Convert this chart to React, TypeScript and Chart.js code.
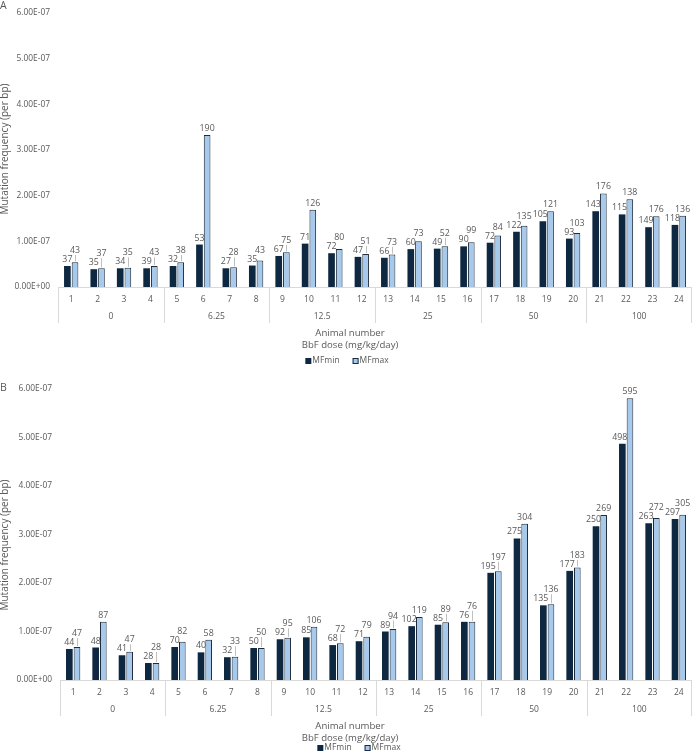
import React, { useEffect, useRef } from 'react';
import { Chart, registerables } from 'chart.js';
Chart.register(...registerables);

// ---------- DATA ----------
const animals = ['1','2','3','4','5','6','7','8','9','10','11','12','13','14','15','16','17','18','19','20','21','22','23','24'];
const doseGroups = ['0','6.25','12.5','25','50','100'];
const animalsPerDose = [4, 4, 4, 4, 4, 4];
const yTicks = [0, 1e-7, 2e-7, 3e-7, 4e-7, 5e-7, 6e-7];
const UNIT = 1e-7; // values below are in units of 1E-07 per bp

// Panel A
const aMFmin = [0.46,0.39,0.41,0.41,0.46,0.93,0.41,0.47,0.68,0.95,0.74,0.66,0.64,0.83,0.84,0.89,0.97,1.21,1.44,1.06,1.66,1.59,1.31,1.36];
const aMFmax = [0.54,0.41,0.42,0.46,0.54,3.33,0.43,0.58,0.76,1.69,0.83,0.72,0.71,1.00,0.89,0.98,1.13,1.34,1.66,1.18,2.05,1.92,1.55,1.56];
const aCountMin = [37,35,34,39,32,53,27,35,67,71,72,47,66,60,49,90,72,122,105,93,143,115,149,118];
const aCountMax = [43,37,35,43,38,190,28,43,75,126,80,51,73,73,52,99,84,135,121,103,176,138,176,136];

// Panel B
const bMFmin = [0.64,0.67,0.51,0.35,0.68,0.57,0.47,0.66,0.84,0.88,0.72,0.80,1.00,1.11,1.14,1.20,2.21,2.92,1.54,2.25,3.17,4.87,3.23,3.32];
const bMFmax = [0.68,1.20,0.58,0.35,0.79,0.83,0.48,0.66,0.87,1.10,0.76,0.89,1.05,1.30,1.19,1.20,2.24,3.22,1.56,2.32,3.40,5.81,3.34,3.41];
const bCountMin = [44,48,41,28,70,40,32,50,92,85,68,71,89,102,85,76,195,275,135,177,250,498,263,297];
const bCountMax = [47,87,47,28,82,58,33,50,95,106,72,79,94,119,89,76,197,304,136,183,269,595,272,305];

// ---------- STYLE ----------
const FONT = '"Open Sans", "Noto Sans", sans-serif';
const TEXT = '#595959';
const MIN_COLOR = '#0E2841';
const MAX_COLOR = '#A6C9EC';
const MAX_BORDER = '#1E2B3A';
const AXIS = '#D9D9D9';

function sci(v: number): string {
  if (Math.abs(v) < 1e-20) return '0.00E+00';
  const [m, e] = v.toExponential(2).split('e');
  const n = parseInt(e, 10);
  return m + 'E' + (n < 0 ? '-' : '+') + String(Math.abs(n)).padStart(2, '0');
}

type PanelProps = {
  letter: string;
  letterY: number;
  mfMin: number[];
  mfMax: number[];
  countMin: number[];
  countMax: number[];
  top: number;
  left: number;
  xHeight: number;
  yTitleCenter: number;
  legendCenter: number;
};

function makeOverlay(p: PanelProps) {
  return {
    id: 'overlay' + p.letter,
    afterDatasetsDraw(chart: any) {
      const ctx = chart.ctx as CanvasRenderingContext2D;
      const m0 = chart.getDatasetMeta(0);
      const m1 = chart.getDatasetMeta(1);
      ctx.save();
      ctx.font = `8.8px ${FONT}`;
      ctx.fillStyle = TEXT;
      ctx.textAlign = 'center';
      ctx.textBaseline = 'alphabetic';
      for (let i = 0; i < animals.length; i++) {
        const b0 = m0.data[i];
        const b1 = m1.data[i];
        const t0 = String(p.countMin[i]);
        const t1 = String(p.countMax[i]);
        const w0 = ctx.measureText(t0).width;
        const w1 = ctx.measureText(t1).width;
        let x0 = b0.x;
        const minBase = b0.y - 4;
        let maxBase = b1.y - 4;
        const hOverlap = x0 + w0 / 2 + 1 > b1.x - w1 / 2;
        if (hOverlap && maxBase > minBase - 9) maxBase = minBase - 9;
        if (w0 > 14) x0 = b0.x - (w0 - 10) / 2;
        ctx.fillStyle = TEXT;
        ctx.fillText(t0, x0, minBase);
        ctx.fillText(t1, b1.x, maxBase);
        if (b1.y - maxBase > 9) {
          ctx.strokeStyle = '#BFBFBF';
          ctx.lineWidth = 1;
          ctx.beginPath();
          ctx.moveTo(Math.round(b1.x) + 0.5, maxBase + 2);
          ctx.lineTo(Math.round(b1.x) + 0.5, b1.y - 1);
          ctx.stroke();
        }
      }
      ctx.restore();
    },
    afterDraw(chart: any) {
      const ctx = chart.ctx as CanvasRenderingContext2D;
      const ca = chart.chartArea;
      const catW = (ca.right - ca.left) / animals.length;
      ctx.save();
      // group separators and dose labels
      ctx.strokeStyle = AXIS;
      ctx.lineWidth = 1;
      let idx = 0;
      const bounds: number[] = [ca.left];
      animalsPerDose.forEach((n) => { idx += n; bounds.push(ca.left + idx * catW); });
      bounds.forEach((bx) => {
        const x = Math.min(Math.round(bx), ca.right - 1) + 0.5;
        ctx.beginPath();
        ctx.moveTo(x, ca.bottom);
        ctx.lineTo(x, ca.bottom + 36);
        ctx.stroke();
      });
      ctx.fillStyle = TEXT;
      ctx.font = `8.5px ${FONT}`;
      ctx.textAlign = 'center';
      ctx.textBaseline = 'middle';
      doseGroups.forEach((g, k) => {
        ctx.fillText(g, (bounds[k] + bounds[k + 1]) / 2, ca.bottom + 29.5);
      });
      // axis titles
      ctx.font = `9.6px ${FONT}`;
      ctx.fillText('Animal number', 350, ca.bottom + 46);
      ctx.fillText('BbF dose (mg/kg/day)', 350, ca.bottom + 58);
      // legend
      ctx.font = `8.5px ${FONT}`;
      const lw0 = ctx.measureText('MFmin').width;
      const lw1 = ctx.measureText('MFmax').width;
      const total = 7 + lw0 + 13 + 7 + lw1;
      let lx = p.legendCenter - total / 2;
      const ly = ca.bottom + (p.letter === 'A' ? 74 : 68);
      ctx.fillStyle = MIN_COLOR;
      ctx.fillRect(lx, ly - 3, 6, 6);
      ctx.fillStyle = TEXT;
      ctx.textAlign = 'left';
      ctx.fillText('MFmin', lx + 7, ly);
      lx += 7 + lw0 + 13;
      ctx.fillStyle = MAX_COLOR;
      ctx.fillRect(lx, ly - 3, 6, 6);
      ctx.strokeStyle = MAX_BORDER;
      ctx.strokeRect(lx + 0.5, ly - 2.5, 5, 5);
      ctx.fillStyle = TEXT;
      ctx.fillText('MFmax', lx + 7, ly);
      // y title
      ctx.save();
      ctx.translate(5, p.yTitleCenter);
      ctx.rotate(-Math.PI / 2);
      ctx.textAlign = 'center';
      ctx.textBaseline = 'middle';
      ctx.font = `10px ${FONT}`;
      ctx.fillText('Mutation frequency (per bp)', 0, 0);
      ctx.restore();
      // panel letter
      ctx.font = `10.5px ${FONT}`;
      ctx.textAlign = 'left';
      ctx.textBaseline = 'middle';
      ctx.fillText(p.letter, 0, p.letterY);
      ctx.restore();
    },
  };
}

function BarPanel(p: PanelProps) {
  const ref = useRef<HTMLCanvasElement>(null);
  useEffect(() => {
    const chart = new Chart(ref.current as HTMLCanvasElement, {
      type: 'bar',
      data: {
        labels: animals,
        datasets: [
          {
            label: 'MFmin',
            data: p.mfMin.map((v) => v * UNIT),
            backgroundColor: MIN_COLOR,
            borderWidth: 0,
            categoryPercentage: 0.58,
            barPercentage: 0.87,
          },
          {
            label: 'MFmax',
            data: p.mfMax.map((v) => v * UNIT),
            backgroundColor: MAX_COLOR,
            borderColor: MAX_BORDER,
            borderWidth: 1,
            categoryPercentage: 0.58,
            barPercentage: 0.87,
          },
        ],
      },
      options: {
        responsive: false,
        animation: false,
        devicePixelRatio: 1,
        layout: { padding: { top: p.top, left: 0, right: 0, bottom: 0 } },
        plugins: { legend: { display: false }, tooltip: { enabled: false } },
        scales: {
          x: {
            grid: { display: false, drawTicks: false },
            border: { display: true, color: AXIS, width: 1 },
            ticks: { color: TEXT, font: { family: FONT, size: 8.5 }, padding: 7, maxRotation: 0, autoSkip: false },
            afterFit: (s: any) => { s.height = p.xHeight; },
          },
          y: {
            min: 0,
            max: 6e-7,
            grid: { display: false, drawTicks: false },
            border: { display: false },
            ticks: {
              color: TEXT,
              font: { family: FONT, size: 8.4 },
              padding: 8,
              callback: (v: any) => sci(Number(v)),
            },
            afterBuildTicks: (s: any) => { s.ticks = yTicks.map((v) => ({ value: v })); },
            afterFit: (s: any) => { s.width = p.left; },
          },
        },
      },
      plugins: [makeOverlay(p) as any],
    });
    return () => chart.destroy();
  }, []);
  return <canvas ref={ref} width={692} height={376} style={{ display: 'block', width: 692, height: 376 }} />;
}

export default function App() {
  return (
    <div style={{ position: 'absolute', left: 0, top: 0, width: 692, height: 752, background: '#fff' }}>
      <BarPanel
        letter="A" letterY={6.5}
        mfMin={aMFmin} mfMax={aMFmax} countMin={aCountMin} countMax={aCountMax}
        top={7} left={58} xHeight={89} yTitleCenter={149} legendCenter={347}
      />
      <BarPanel
        letter="B" letterY={12.5}
        mfMin={bMFmin} mfMax={bMFmax} countMin={bCountMin} countMax={bCountMax}
        top={10} left={60} xHeight={72} yTitleCenter={169} legendCenter={359}
      />
    </div>
  );
}
